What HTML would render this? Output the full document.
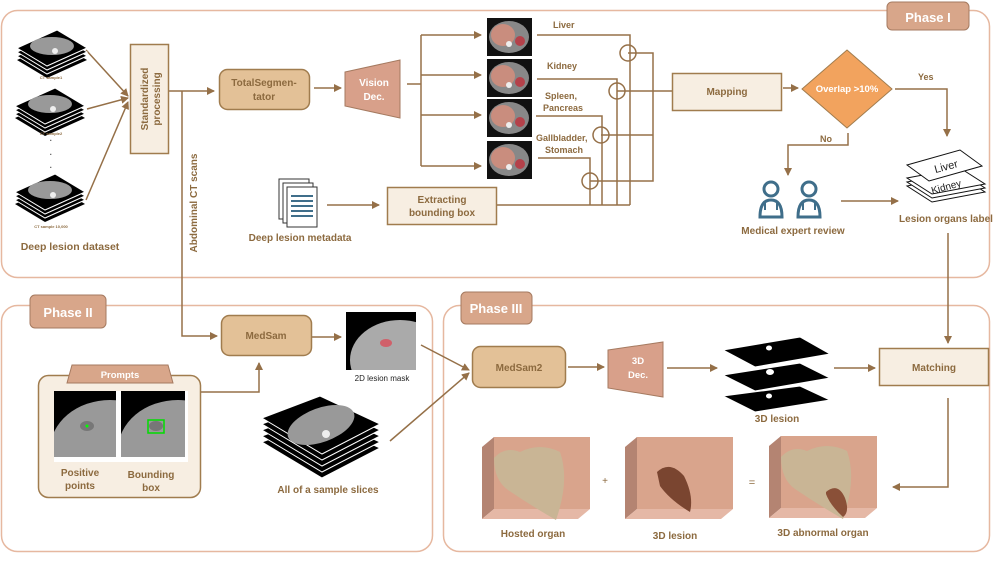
<!DOCTYPE html>
<html><head><meta charset="utf-8"><style>
html,body{margin:0;padding:0;background:#fff}
svg{display:block}
text{font-family:"Liberation Sans",sans-serif;font-weight:bold;fill:#8C6A3F}
</style></head><body>
<svg width="996" height="561" viewBox="0 0 996 561" xmlns="http://www.w3.org/2000/svg">
<defs>
<marker id="a" markerWidth="8" markerHeight="8" refX="7" refY="4" orient="auto" markerUnits="userSpaceOnUse"><path d="M0,0 L8,4 L0,8 Z" fill="#957048"/></marker>
<clipPath id="cm"><rect x="346" y="312" width="70" height="58"/></clipPath>
<clipPath id="c1"><rect x="54" y="391" width="62" height="66"/></clipPath>
<clipPath id="c2"><rect x="121" y="391" width="64" height="66"/></clipPath>
<g id="stack">
<path d="M0,18 L40,0 L70,18 L30,36 Z" fill="#000"/>
<path d="M0,14 L40,-4 L70,14 L30,32 Z" fill="#000" stroke="#fff" stroke-width="1"/>
<path d="M0,10 L40,-8 L70,10 L30,28 Z" fill="#000" stroke="#fff" stroke-width="1"/>
<path d="M0,6 L40,-12 L70,6 L30,24 Z" fill="#000" stroke="#fff" stroke-width="1"/>
<ellipse cx="35" cy="4" rx="22" ry="9" fill="#999"/>
<circle cx="38" cy="9" r="3" fill="#eee"/>
</g>
<g id="ct"><rect width="45" height="38" fill="#111"/><ellipse cx="22" cy="19" rx="20" ry="16" fill="#888"/><ellipse cx="16" cy="17" rx="12" ry="11" fill="#C98D7E"/><circle cx="33" cy="23" r="5" fill="#B4414A"/><circle cx="22" cy="26" r="3" fill="#eee"/></g>
<g id="box3d"><path d="M0,10 L12,0 L12,72 L0,82 Z" fill="#B48472"/><rect x="12" y="0" width="96" height="72" fill="#D9A48C"/><path d="M0,82 L12,72 L108,72 L96,82 Z" fill="#E5B8A6"/></g>
<g id="doc"><circle cx="14" cy="9" r="7" fill="none" stroke="#3F6E8A" stroke-width="3"/><path d="M3,37 Q3,20 14,20 Q25,20 25,37 Z" fill="none" stroke="#3F6E8A" stroke-width="3"/><path d="M8,22 L8,30 M20,22 L20,30" stroke="#3F6E8A" stroke-width="2"/></g>
</defs>

<rect x="1.5" y="10.5" width="988" height="267" rx="16" fill="none" stroke="#E6B8A0" stroke-width="1.5"/>
<rect x="1.5" y="305.5" width="431" height="246" rx="16" fill="none" stroke="#E6B8A0" stroke-width="1.5"/>
<rect x="443.5" y="305.5" width="546" height="246" rx="16" fill="none" stroke="#E6B8A0" stroke-width="1.5"/>
<rect x="887" y="2" width="82" height="28" rx="5" fill="#D8A68A" stroke="#A57A60"/>
<text x="928" y="22" font-size="13" text-anchor="middle" style="fill:#fff">Phase I</text>
<rect x="30" y="295" width="76" height="33" rx="5" fill="#D8A68A" stroke="#A57A60"/>
<text x="68" y="317" font-size="13" text-anchor="middle" style="fill:#fff">Phase II</text>
<rect x="461" y="292" width="71" height="32" rx="5" fill="#D8A68A" stroke="#A57A60"/>
<text x="496" y="313" font-size="13" text-anchor="middle" style="fill:#fff">Phase III</text>

<g stroke="#957048" stroke-width="1.5" fill="none">
<line x1="86" y1="50" x2="128" y2="96" marker-end="url(#a)"/>
<line x1="87" y1="109" x2="128" y2="98" marker-end="url(#a)"/>
<line x1="86" y1="200" x2="128" y2="102" marker-end="url(#a)"/>
<line x1="169" y1="91" x2="214" y2="91" marker-end="url(#a)"/>
<path d="M182,91 L182,336 L217,336" marker-end="url(#a)"/>
<line x1="314" y1="88" x2="341" y2="88" marker-end="url(#a)"/>
<path d="M407,84 L421,84"/>
<line x1="421" y1="35" x2="421" y2="166"/>
<line x1="421" y1="35" x2="481" y2="35" marker-end="url(#a)"/>
<line x1="421" y1="75" x2="481" y2="75" marker-end="url(#a)"/>
<line x1="421" y1="115" x2="481" y2="115" marker-end="url(#a)"/>
<line x1="421" y1="166" x2="481" y2="166" marker-end="url(#a)"/>
<path d="M537,35 L630,35 L630,205"/>
<path d="M537,79 L617,79 L617,205"/>
<path d="M536,116 L602,116 L602,205"/>
<path d="M538,158 L590,158 L590,205"/>
<path d="M497,205 L630,205"/>
<circle cx="628" cy="53" r="8"/><circle cx="617" cy="91" r="8"/><circle cx="601" cy="135" r="8"/><circle cx="590" cy="181" r="8"/>
<path d="M628,53 L653,53 L653,181 L590,181"/>
<path d="M601,135 L653,135"/>
<path d="M617,91 L672,91"/>
<line x1="327" y1="205" x2="379" y2="205" marker-end="url(#a)"/>
<line x1="783" y1="88" x2="798" y2="88" marker-end="url(#a)"/>
<path d="M895,89 L947,89 L947,136" marker-end="url(#a)"/>
<path d="M848,133 L848,145 L788,145 L788,175" marker-end="url(#a)"/>
<line x1="841" y1="201" x2="898" y2="201" marker-end="url(#a)"/>
<path d="M948,233 L948,343" marker-end="url(#a)"/>
<path d="M948,398 L948,487 L893,487" marker-end="url(#a)"/>
<line x1="312" y1="337" x2="341" y2="337" marker-end="url(#a)"/>
<path d="M200,392 L259,392 L259,363" marker-end="url(#a)"/>
<line x1="421" y1="345" x2="469" y2="370" marker-end="url(#a)"/>
<line x1="390" y1="441" x2="469" y2="373" marker-end="url(#a)"/>
<line x1="568" y1="367" x2="604" y2="367" marker-end="url(#a)"/>
<line x1="667" y1="368" x2="717" y2="368" marker-end="url(#a)"/>
<line x1="834" y1="368" x2="875" y2="368" marker-end="url(#a)"/>
</g>

<use href="#stack" x="17" y="42"/>
<text x="51" y="79" font-size="4" text-anchor="middle">CT sample1</text>
<use href="#stack" x="15" y="100"/>
<text x="51" y="135" font-size="4" text-anchor="middle">CT sample2</text>
<text x="51" y="143" font-size="8" text-anchor="middle" style="fill:#555">·</text>
<text x="51" y="157" font-size="8" text-anchor="middle" style="fill:#555">·</text>
<text x="51" y="170" font-size="8" text-anchor="middle" style="fill:#555">·</text>
<use href="#stack" x="15" y="186"/>
<text x="51" y="228" font-size="4" text-anchor="middle">CT sample 10,000</text>
<text x="70" y="250" font-size="10.5" text-anchor="middle">Deep lesion dataset</text>

<rect x="130.5" y="44.5" width="38" height="109" fill="#F7EEE2" stroke="#A07C4E" stroke-width="1.5"/>
<text transform="translate(148,99) rotate(-90)" font-size="10" text-anchor="middle">Standardized</text>
<text transform="translate(160,99) rotate(-90)" font-size="10" text-anchor="middle">processing</text>
<text transform="translate(197,203) rotate(-90)" font-size="10" text-anchor="middle">Abdominal CT scans</text>

<rect x="219.5" y="69.5" width="90" height="40" rx="8" fill="#E3C197" stroke="#A07C4E" stroke-width="1.5"/>
<text x="264" y="86" font-size="10" text-anchor="middle">TotalSegmen-</text>
<text x="264" y="100" font-size="10" text-anchor="middle">tator</text>
<path d="M345,72 L400,60 L400,118 L345,106 Z" fill="#D8A08A" stroke="#A57A60"/>
<text x="374" y="86" font-size="10" text-anchor="middle" style="fill:#fff">Vision</text>
<text x="374" y="100" font-size="10" text-anchor="middle" style="fill:#fff">Dec.</text>

<use href="#ct" x="487" y="18"/><use href="#ct" x="487" y="59"/><use href="#ct" x="487" y="99"/><use href="#ct" x="487" y="141"/>
<text x="553" y="28" font-size="9">Liver</text>
<text x="547" y="69" font-size="9">Kidney</text>
<text x="545" y="99" font-size="9">Spleen,</text>
<text x="543" y="111" font-size="9">Pancreas</text>
<text x="536" y="141" font-size="9">Gallbladder,</text>
<text x="545" y="153" font-size="9">Stomach</text>

<rect x="387.5" y="187.5" width="109" height="37" fill="#F7EEE2" stroke="#A07C4E" stroke-width="1.5"/>
<text x="442" y="203" font-size="10" text-anchor="middle">Extracting</text>
<text x="442" y="216" font-size="10" text-anchor="middle">bounding box</text>
<g stroke="#333" fill="#fff" stroke-width="1"><rect x="279" y="179" width="30" height="40"/><rect x="283" y="183" width="30" height="40"/><rect x="287" y="187" width="30" height="40"/></g>
<g fill="#3F6E8A"><rect x="291" y="195" width="22" height="2"/><rect x="291" y="200" width="22" height="2"/><rect x="291" y="205" width="22" height="2"/><rect x="291" y="210" width="22" height="2"/><rect x="291" y="215" width="22" height="2"/></g>
<text x="300" y="241" font-size="10" text-anchor="middle">Deep lesion metadata</text>

<rect x="672.5" y="73.5" width="109" height="37" fill="#F7EEE2" stroke="#A07C4E" stroke-width="1.5"/>
<text x="727" y="95" font-size="10" text-anchor="middle">Mapping</text>
<path d="M847,50 L892,89 L847,128 L802,89 Z" fill="#F2A35E" stroke="#A07C4E"/>
<text x="847" y="92" font-size="9.5" text-anchor="middle" style="fill:#fff">Overlap &gt;10%</text>
<text x="918" y="80" font-size="9">Yes</text>
<text x="820" y="142" font-size="9">No</text>
<use href="#doc" x="757" y="180"/><use href="#doc" x="795" y="180"/>
<text x="793" y="234" font-size="10" text-anchor="middle">Medical expert review</text>
<g stroke="#111" fill="#fff" stroke-width="1">
<path d="M907,186 L960,176 L985,192 L932,202 Z"/><path d="M907,182 L960,172 L985,188 L932,198 Z"/><path d="M907,178 L960,168 L985,184 L932,194 Z"/>
<path d="M907,165 L960,150 L982,166 L929,181 Z"/></g>
<text transform="translate(947,170) rotate(-15)" font-size="11" text-anchor="middle" style="fill:#222;font-weight:normal">Liver</text>
<text transform="translate(947,190) rotate(-15)" font-size="10" text-anchor="middle" style="fill:#222;font-weight:normal">Kidney</text>
<text x="946" y="222" font-size="10" text-anchor="middle">Lesion organs label</text>

<rect x="221.5" y="315.5" width="90" height="40" rx="8" fill="#E3C197" stroke="#A07C4E" stroke-width="1.5"/>
<text x="266" y="339" font-size="10" text-anchor="middle">MedSam</text>
<rect x="346" y="312" width="70" height="58" fill="#000"/>
<g clip-path="url(#cm)"><ellipse cx="400" cy="360" rx="50" ry="40" fill="#aaa"/>
<ellipse cx="386" cy="343" rx="6" ry="4" fill="#D0606A"/></g>
<text x="382" y="381" font-size="8" text-anchor="middle" style="fill:#222;font-weight:normal">2D lesion mask</text>
<rect x="38.5" y="375.5" width="162" height="122" rx="10" fill="#F7EEE2" stroke="#A07C4E" stroke-width="1.5"/>
<path d="M72,365 L168,365 L173,383 L67,383 Z" fill="#D8A68A" stroke="#A57A60"/>
<text x="120" y="378" font-size="9.5" text-anchor="middle" style="fill:#fff">Prompts</text>
<rect x="54" y="391" width="134" height="71" fill="#fff"/>
<g clip-path="url(#c1)"><rect x="54" y="391" width="62" height="66" fill="#000"/><ellipse cx="110" cy="450" rx="60" ry="50" fill="#999"/>
<ellipse cx="87" cy="426" rx="7" ry="5" fill="#777"/><circle cx="87" cy="426" r="1.5" fill="#0f0"/></g>
<g clip-path="url(#c2)"><rect x="121" y="391" width="64" height="66" fill="#000"/><ellipse cx="178" cy="450" rx="60" ry="50" fill="#999"/>
<ellipse cx="156" cy="426" rx="7" ry="5" fill="#777"/><rect x="148" y="420" width="16" height="13" fill="none" stroke="#0d0" stroke-width="1.5"/></g>
<text x="80" y="476" font-size="10" text-anchor="middle">Positive</text>
<text x="80" y="489" font-size="10" text-anchor="middle">points</text>
<text x="151" y="478" font-size="10" text-anchor="middle">Bounding</text>
<text x="151" y="491" font-size="10" text-anchor="middle">box</text>
<g stroke="#fff" stroke-width="1" fill="#000">
<path d="M262,442 L320,420 L380,448 L322,478 Z"/><path d="M262,436 L320,414 L380,442 L322,472 Z"/><path d="M262,430 L320,408 L380,436 L322,466 Z"/><path d="M262,424 L320,402 L380,430 L322,460 Z"/><path d="M262,418 L320,396 L380,424 L322,454 Z"/></g>
<ellipse cx="321" cy="425" rx="35" ry="17" fill="#999" transform="rotate(-20 321 425)"/>
<circle cx="326" cy="434" r="4" fill="#eee"/>
<text x="328" y="493" font-size="10" text-anchor="middle">All of a sample slices</text>

<rect x="472.5" y="346.5" width="93" height="41" rx="8" fill="#E3C197" stroke="#A07C4E" stroke-width="1.5"/>
<text x="519" y="371" font-size="10" text-anchor="middle">MedSam2</text>
<path d="M608,350 L663,342 L663,397 L608,388 Z" fill="#D8A08A" stroke="#A57A60"/>
<text x="638" y="364" font-size="9.5" text-anchor="middle" style="fill:#fff">3D</text>
<text x="638" y="378" font-size="9.5" text-anchor="middle" style="fill:#fff">Dec.</text>
<g stroke="#fff" fill="#000"><path d="M723,396 L800,386 L830,400 L755,412 Z"/><path d="M723,375 L800,363 L830,378 L755,391 Z"/><path d="M723,350 L800,337 L830,354 L755,367 Z"/></g>
<ellipse cx="769" cy="348" rx="3" ry="2.5" fill="#fff"/><ellipse cx="770" cy="372" rx="4" ry="3" fill="#fff"/><ellipse cx="769" cy="396" rx="3" ry="2.5" fill="#fff"/>
<text x="777" y="422" font-size="10" text-anchor="middle">3D lesion</text>
<rect x="879.5" y="348.5" width="109" height="37" fill="#F7EEE2" stroke="#A07C4E" stroke-width="1.5"/>
<text x="934" y="371" font-size="10" text-anchor="middle">Matching</text>

<use href="#box3d" x="482" y="437"/><use href="#box3d" x="625" y="437"/><use href="#box3d" x="769" y="436"/>
<path d="M494,458 Q505,446 520,452 Q540,442 560,452 Q570,480 556,520 Q530,505 508,490 Q494,480 494,458 Z" fill="#C9B595"/>
<path d="M657,472 Q670,460 684,476 Q694,496 690,512 Q670,500 660,486 Z" fill="#7A4530"/>
<path d="M781,457 Q792,445 807,451 Q827,441 847,451 Q857,479 843,519 Q817,504 795,489 Q781,479 781,457 Z" fill="#C9B595"/>
<path d="M826,492 Q838,482 845,498 Q850,512 843,517 Q830,505 826,494 Z" fill="#8A5038"/>
<text x="605" y="484" font-size="10" text-anchor="middle" style="font-weight:normal">+</text>
<text x="752" y="486" font-size="11" text-anchor="middle" style="font-weight:normal">=</text>
<text x="533" y="537" font-size="10" text-anchor="middle">Hosted organ</text>
<text x="675" y="539" font-size="10" text-anchor="middle">3D lesion</text>
<text x="823" y="536" font-size="10" text-anchor="middle">3D abnormal organ</text>
</svg>
</body></html>
